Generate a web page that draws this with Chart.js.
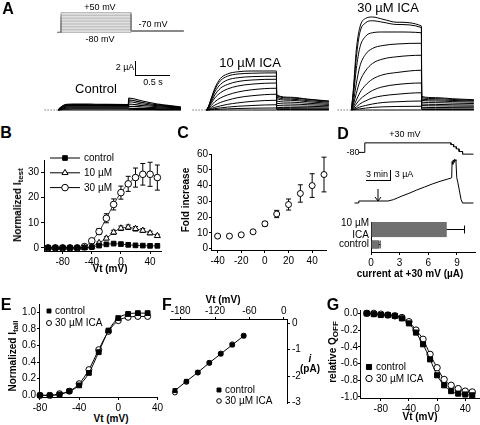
<!DOCTYPE html>
<html>
<head>
<meta charset="utf-8">
<script src="https://cdn.jsdelivr.net/npm/chart.js@4.4.1/dist/chart.umd.min.js"></script>
<style>
  body { margin:0; width:480px; height:425px; overflow:hidden; background:#fff; position:relative;
         font-family:"Liberation Sans", Arial, sans-serif; color:#000; }
  canvas { position:absolute; }
  .t { position:absolute; white-space:nowrap; line-height:1; transform:translate(-50%,-50%); font-size:10px; }
  .b { font-weight:bold; }
  .r { transform:translate(-50%,-50%) rotate(-90deg); }
  .L { font-weight:bold; font-size:16px; }
  .big { font-size:13px; }
  .sm { font-size:9px; }
  sub { font-size:0.8em; vertical-align:-0.3em; line-height:0; }
  .rule { position:absolute; background:#000; }
</style>
</head>
<body>
<script>
const FONT = '"Liberation Sans", Arial, sans-serif';
Chart.defaults.font.family = FONT;
Chart.defaults.font.size = 10;
Chart.defaults.color = '#000';
Chart.defaults.animation = false;
Chart.defaults.responsive = false;
Chart.defaults.plugins.legend.display = false;
Chart.defaults.plugins.tooltip.enabled = false;

/* ---------- Data ---------- */
// A: voltage protocol (mV) and current traces (uA), time in s
const protoV = [-80, -70, -60, -50, -40, -30, -20, -10, 0, 10, 20, 30, 40, 50];
const tStep = [0, 0.03, 0.07, 0.12, 0.2, 0.3, 0.45, 0.65, 1.0];
const tTail = [1.004, 1.2, 1.45, 1.75];

const ctrlStep = [
  [0, 0.3, 0.6, 0.75, 0.8, 0.8, 0.78, 0.75, 0.72],
  [0, 0.3, 0.55, 0.7, 0.72, 0.72, 0.7, 0.68, 0.66],
  [0, 0.25, 0.5, 0.6, 0.62, 0.62, 0.61, 0.6, 0.58],
  [0, 0.2, 0.4, 0.5, 0.52, 0.52, 0.5, 0.5, 0.5],
  [0, 0.15, 0.3, 0.38, 0.4, 0.4, 0.4, 0.4, 0.4],
  [0, 0.1, 0.2, 0.25, 0.28, 0.28, 0.28, 0.28, 0.28],
  [0, 0.05, 0.1, 0.12, 0.14, 0.14, 0.14, 0.14, 0.14],
  [0, 0, 0, 0, 0, 0, 0, 0, 0]
];
const ctrlTail = [
  [1.6, 1.2, 0.75, 0.4],
  [1.35, 1.0, 0.65, 0.35],
  [1.1, 0.8, 0.55, 0.3],
  [0.8, 0.6, 0.42, 0.25],
  [0.5, 0.4, 0.28, 0.18],
  [0.25, 0.2, 0.15, 0.1],
  [0.1, 0.08, 0.06, 0.05],
  [0, 0, 0, 0]
];
const ica10Step = [
  [0, 0.5, 1.6, 2.9, 4.2, 4.8, 5.1, 5.2, 5.2],
  [0, 0.45, 1.5, 2.7, 3.9, 4.5, 4.8, 4.9, 4.95],
  [0, 0.4, 1.3, 2.4, 3.4, 4.0, 4.3, 4.45, 4.5],
  [0, 0.35, 1.1, 2.0, 2.9, 3.4, 3.8, 4.0, 4.1],
  [0, 0.3, 0.9, 1.6, 2.3, 2.8, 3.2, 3.45, 3.6],
  [0, 0.2, 0.6, 1.1, 1.6, 2.0, 2.4, 2.7, 2.9],
  [0, 0.1, 0.35, 0.65, 1.0, 1.3, 1.65, 1.9, 2.1],
  [0, 0.05, 0.2, 0.35, 0.55, 0.75, 0.95, 1.15, 1.3],
  [0, 0.03, 0.1, 0.18, 0.28, 0.38, 0.5, 0.6, 0.7],
  [0, 0.01, 0.04, 0.07, 0.11, 0.15, 0.2, 0.24, 0.27],
  [0, 0, 0, 0, 0, 0, 0, 0, 0]
];
const ica10Tail = [
  [2.0, 1.7, 1.45, 1.2],
  [1.9, 1.6, 1.4, 1.15],
  [1.7, 1.45, 1.25, 1.05],
  [1.5, 1.3, 1.1, 0.9],
  [1.2, 1.05, 0.9, 0.75],
  [0.9, 0.8, 0.7, 0.6],
  [0.6, 0.55, 0.5, 0.42],
  [0.35, 0.32, 0.3, 0.26],
  [0.18, 0.17, 0.16, 0.14],
  [0.06, 0.06, 0.05, 0.05],
  [0, 0, 0, 0]
];
const ica30Step = [
  [0, 3, 8, 11, 12.2, 12.4, 12.1, 11.7, 11.2],
  [0, 2.6, 7, 10.3, 11.6, 11.9, 11.7, 11.4, 11.0],
  [0, 2, 5.5, 8.3, 9.8, 10.3, 10.4, 10.4, 10.3],
  [0, 1.2, 3.5, 5.8, 7.4, 8.2, 8.6, 8.8, 8.9],
  [0, 0.8, 2.2, 3.8, 5.2, 6.2, 6.8, 7.1, 7.3],
  [0, 0.5, 1.3, 2.3, 3.3, 4.1, 4.7, 5.0, 5.3],
  [0, 0.3, 0.8, 1.4, 2.0, 2.6, 3.1, 3.4, 3.6],
  [0, 0.2, 0.4, 0.8, 1.2, 1.6, 1.9, 2.1, 2.3],
  [0, 0.1, 0.2, 0.4, 0.6, 0.8, 1.0, 1.1, 1.2],
  [0, 0.05, 0.1, 0.15, 0.25, 0.35, 0.42, 0.47, 0.5],
  [0, 0, 0, 0, 0, 0, 0, 0, 0]
];
const ica30Tail = [
  [1.8, 1.65, 1.5, 1.37],
  [1.65, 1.52, 1.4, 1.28],
  [1.45, 1.36, 1.27, 1.2],
  [1.3, 1.2, 1.12, 1.05],
  [1.05, 0.98, 0.92, 0.86],
  [0.8, 0.75, 0.7, 0.66],
  [0.6, 0.56, 0.52, 0.5],
  [0.35, 0.33, 0.32, 0.3],
  [0.15, 0.15, 0.14, 0.13],
  [0.06, 0.06, 0.05, 0.05],
  [0, 0, 0, 0]
];

// B: normalized I_test vs Vt
const vtB = [-100, -90, -80, -70, -60, -50, -40, -30, -20, -10, 0, 10, 20, 30, 40, 50];
const bControl = [0, 0, 0, 0, 0, 0.1, 0.3, 0.9, 1.4, 1.7, 1.5, 1.2, 1.0, 0.9, 0.8, 0.8];
const b10 = [0, 0, 0, 0, 0, 0.05, 0.5, 2.0, 3.8, 6.2, 7.8, 8.2, 7.6, 6.9, 5.9, 4.8];
const b10Err = [0, 0, 0, 0, 0, 0, 0.3, 0.4, 0.6, 0.8, 0.9, 0.9, 0.9, 0.8, 0.7, 0.6];
const b30 = [0, 0, 0, 0, 0, 0.5, 2.8, 6.5, 11.8, 17.3, 22, 25.5, 28, 29.3, 29.3, 28];
const b30Err = [0, 0, 0, 0, 0, 0.3, 0.8, 1.2, 1.8, 2.2, 2.6, 3, 3.8, 4.3, 4.8, 5];

// C: fold increase
const vtC = [-40, -30, -20, -10, 0, 10, 20, 30, 40, 50];
const fold = [8, 8, 8.8, 10.7, 15.8, 22, 28, 35, 40, 47];
const foldErr = [0.8, 0.8, 0.9, 1, 1.5, 2.3, 3.5, 5.5, 7.5, 11];

// D: protocol, current time course, bars
const dProtoT = [0.55, 1.32, 1.32, 12.4, 12.4, 12.75, 12.75, 13.1, 13.1, 13.45, 13.45, 13.9, 13.9, 15.3];
const dProtoV = [-80, -80, 30, 30, 10, 10, -15, -15, -40, -40, -70, -70, -100, -100];
const dTime = [0, 0.5, 0.55, 2, 4.3, 5, 5.5, 6, 7, 8, 9, 10, 11, 12, 12.4, 12.5, 12.55, 12.65, 12.7, 12.8, 12.85, 12.95, 13.05, 13.15, 13.3, 13.5, 13.7, 13.9, 15.3];
const dCurr = [-0.6, -0.6, 0, 0, 0, 0.4, 0.9, 1.4, 2.3, 3.3, 4.2, 5.1, 5.9, 6.6, 6.85, 7.0, 11.8, 11.0, 12.3, 11.6, 12.5, 12.4, 12.0, 7.0, 5.5, 3.0, 0.5, -0.6, -0.6];
const barLabels = [['10 \u00b5M', 'ICA'], 'control'];
const barVals = [7.9, 0.8];
const barErr = [1.9, 0.15];

// E: normalized I_tail
const vtE = [-80, -70, -60, -50, -40, -30, -20, -10, 0, 10, 20, 30];
const eCtrl = [0, 0, 0.01, 0.05, 0.12, 0.27, 0.52, 0.78, 0.93, 0.98, 0.99, 0.99];
const eICA = [0, 0, 0.02, 0.05, 0.14, 0.31, 0.55, 0.77, 0.9, 0.94, 0.95, 0.95];

// F: single channel current
const vtF = [-190, -170, -150, -130, -110, -90, -70];
const fCtrl = [-2.55, -2.2, -1.86, -1.5, -1.16, -0.82, -0.48];
const fICA = [-2.62, -2.22, -1.87, -1.5, -1.15, -0.8, -0.47];

// G: relative Q_OFF
const vtG = [-100, -90, -80, -70, -60, -50, -40, -30, -20, -10, 0, 10, 20, 30, 40, 50];
const gCtrl = [0, -0.01, -0.02, -0.02, -0.03, -0.06, -0.12, -0.23, -0.37, -0.55, -0.74, -0.86, -0.93, -0.96, -0.97, -0.98];
const gICA = [0, 0, -0.01, -0.02, -0.03, -0.05, -0.1, -0.2, -0.31, -0.49, -0.65, -0.79, -0.86, -0.9, -0.93, -0.94];

/* ---------- helpers ---------- */
const xy = (xs, ys) => xs.map((x, i) => ({ x: x, y: ys[i] }));

function txt(html, x, y, cls, style) {
  const d = document.createElement('div');
  d.className = 't ' + (cls || '');
  d.innerHTML = html;
  d.style.left = x + 'px';
  d.style.top = y + 'px';
  if (style) d.style.cssText += style;
  document.body.appendChild(d);
}
function rule(x, y, w, h) {
  const d = document.createElement('div');
  d.className = 'rule';
  d.style.cssText = `left:${x}px;top:${y}px;width:${w}px;height:${h}px`;
  document.body.appendChild(d);
}

// plot area from a value->pixel mapping
function areaFrom(x0px, y0px, sx, sy, xmin, xmax, ymin, ymax) {
  return { x0: x0px + xmin * sx, x1: x0px + xmax * sx, y0: y0px - ymax * sy, y1: y0px - ymin * sy };
}

function makeChart(area, m, cfg) {
  const c = document.createElement('canvas');
  const left = Math.round(area.x0 - m.l), top = Math.round(area.y0 - m.t);
  c.width = Math.round(area.x1 - area.x0) + m.l + m.r;
  c.height = Math.round(area.y1 - area.y0) + m.t + m.b;
  c.style.left = left + 'px';
  c.style.top = top + 'px';
  document.body.appendChild(c);
  cfg.options = cfg.options || {};
  cfg.options.layout = { autoPadding: false, padding: m.pad || { left: 0, right: 0, top: 0, bottom: 0 } };
  return new Chart(c, cfg);
}

function axis(pos, min, max, major, size, fmt, extra) {
  return Object.assign({
    type: 'linear', position: pos, min: min, max: max,
    afterFit: s => { if (pos === 'left' || pos === 'right') s.width = size; else s.height = size; },
    afterBuildTicks: s => { s.ticks = major.map(v => ({ value: v })); },
    grid: { drawOnChartArea: false, drawTicks: true, tickLength: 3, color: '#000', lineWidth: 1 },
    border: { color: '#000', width: 1 },
    ticks: { color: '#000', font: { size: 10 }, padding: 2, maxRotation: 0, autoSkip: false,
             callback: v => fmt ? fmt(v) : String(v) }
  }, extra || {});
}
const hidden = (min, max) => ({ type: 'linear', display: false, min: min, max: max });
const shortTicks = { grid: { drawOnChartArea: false, drawTicks: true, tickLength: 2, color: '#000', lineWidth: 1 } };

// error bars drawn under the markers
const errorBars = {
  id: 'errorBars',
  beforeDatasetsDraw(chart) {
    const ctx = chart.ctx;
    const horiz = chart.options.indexAxis === 'y';
    chart.data.datasets.forEach((ds, i) => {
      if (!ds.err) return;
      const meta = chart.getDatasetMeta(i);
      const xs = chart.scales[meta.xAxisID], ys = chart.scales[meta.yAxisID];
      ctx.save();
      ctx.strokeStyle = '#000';
      ctx.lineWidth = 1;
      ctx.beginPath();
      ds.data.forEach((p, j) => {
        const e = ds.err[j];
        if (!e || p === null) return;
        if (horiz) {
          const el = meta.data[j];
          const xe = xs.getPixelForValue(p + e);
          ctx.moveTo(el.x, el.y); ctx.lineTo(xe, el.y);
          ctx.moveTo(xe, el.y - 4); ctx.lineTo(xe, el.y + 4);
        } else {
          const px = xs.getPixelForValue(p.x);
          const y1 = ys.getPixelForValue(p.y - e), y2 = ys.getPixelForValue(p.y + e);
          ctx.moveTo(px, y1); ctx.lineTo(px, y2);
          ctx.moveTo(px - 2.5, y1); ctx.lineTo(px + 2.5, y1);
          ctx.moveTo(px - 2.5, y2); ctx.lineTo(px + 2.5, y2);
        }
      });
      ctx.stroke();
      ctx.restore();
    });
  }
};
Chart.register(errorBars);

// small in-plot legend, positions in page pixels
function miniLegend(items, x, y0, dy, opts) {
  opts = opts || {};
  return {
    id: 'miniLegend',
    afterDraw(chart) {
      const ctx = chart.ctx;
      const ox = parseFloat(chart.canvas.style.left), oy = parseFloat(chart.canvas.style.top);
      ctx.save();
      ctx.font = (opts.size || 10) + 'px ' + FONT;
      ctx.textBaseline = 'middle';
      items.forEach((it, k) => {
        const px = x - ox, py = y0 + k * dy - oy;
        ctx.strokeStyle = '#000';
        ctx.lineWidth = 1;
        if (opts.line) {
          ctx.beginPath(); ctx.moveTo(px - opts.line, py); ctx.lineTo(px + opts.line, py); ctx.stroke();
        }
        ctx.fillStyle = it.fill;
        Chart.helpers.drawPoint(ctx, { pointStyle: it.style, radius: it.r, rotation: 0, borderWidth: 1 }, px, py);
        ctx.fillStyle = '#000';
        ctx.fillText(it.label, px + (opts.gap || 6), py + 0.5);
      });
      ctx.restore();
    }
  };
}

function pts(data, style, r, fill, line) {
  return {
    data: data, pointStyle: style, pointRadius: r, pointBackgroundColor: fill,
    pointBorderColor: '#000', pointBorderWidth: 1,
    showLine: !!line, borderColor: '#000', borderWidth: line || 0,
    cubicInterpolationMode: 'monotone', clip: false
  };
}

/* ---------- A ---------- */
// voltage protocol
{
  const area = areaFrom(60.5, 20.7, 70, 20 / 130, -0.1, 1.8, -90, 60);
  const ds = protoV.map(v => ({
    data: [{ x: -0.05, y: -80 }, { x: 0, y: -80 }, { x: 0, y: v }, { x: 1, y: v }, { x: 1, y: -70 }, { x: 1.75, y: -70 }],
    borderColor: '#8a8a8a', borderWidth: 0.6, pointRadius: 0, tension: 0, clip: false
  }));
  makeChart(area, { l: 0, r: 0, t: 0, b: 0 }, {
    type: 'line', data: { datasets: ds },
    options: { scales: { x: hidden(-0.1, 1.8), y: hidden(-90, 60) } }
  });
}
function traceChart(t0px, steps, tails, width) {
  const area = areaFrom(t0px, 109.5, 70, 7.5, -0.22, 1.78, -0.4, 14.4);
  const ds = steps.map((s, i) => ({
    data: xy(tStep, s).concat(xy(tTail, tails[i])),
    borderColor: '#000', borderWidth: width, pointRadius: 0,
    cubicInterpolationMode: 'monotone', clip: false
  }));
  ds.push({ data: [{ x: -0.2, y: 0 }, { x: 0, y: 0 }], borderColor: '#777', borderWidth: 1,
            borderDash: [1.5, 1.5], pointRadius: 0, clip: false });
  makeChart(area, { l: 0, r: 0, t: 0, b: 0 }, {
    type: 'line', data: { datasets: ds },
    options: { scales: { x: hidden(-0.22, 1.78), y: hidden(-0.4, 14.4) } }
  });
}
traceChart(58.3, ctrlStep, ctrlTail, 1.2);
traceChart(206.7, ica10Step, ica10Tail, 1);
traceChart(351.7, ica30Step, ica30Tail, 1);

txt('A', 8, 9, 'L');
txt('+50 mV', 100, 7, 'sm');
txt('-80 mV', 100, 39, 'sm');
txt('-70 mV', 153, 24, 'sm');
txt('2 \u00b5A', 125, 67, 'sm');
txt('0.5 s', 153, 82, 'sm');
rule(135, 61, 1, 15);
rule(135, 75, 35, 1);
txt('Control', 96, 88, 'big');
txt('10 \u00b5M ICA', 250, 62, 'big');
txt('30 \u00b5M ICA', 388, 7, 'big');

/* ---------- B ---------- */
{
  const area = { x0: 44.3, x1: 161.7, y0: 155.7, y1: 251 };
  makeChart(area, { l: 40, r: 4, t: 4, b: 15, pad: { left: 0, right: 4, top: 4, bottom: 0 } }, {
    type: 'line',
    data: { datasets: [
      pts(xy(vtB, bControl), 'rect', 3.3, '#000', 0.8),
      Object.assign(pts(xy(vtB, b10), 'triangle', 3.5, '#fff', 0.8), { err: b10Err }),
      Object.assign(pts(xy(vtB, b30), 'circle', 3.3, '#fff', 0.8), { err: b30Err })
    ] },
    options: { scales: {
      x: axis('bottom', -105.6, 55, [-80, -40, 0, 40], 15),
      y: axis('left', -1.25, 35, [0, 10, 20, 30], 40)
    } },
    plugins: [miniLegend([
      { label: 'control', style: 'rect', r: 3.3, fill: '#000' },
      { label: '10 \u00b5M', style: 'triangle', r: 3.5, fill: '#fff' },
      { label: '30 \u00b5M', style: 'circle', r: 3.3, fill: '#fff' }
    ], 65, 158, 14.8, { line: 15, gap: 19 })]
  });
}
txt('B', 6, 133, 'L');
txt('Normalized I<sub>test</sub>', 18, 205, 'b r');
txt('Vt (mV)', 110, 269, 'b');

/* ---------- C ---------- */
{
  const area = { x0: 210.7, x1: 325.5, y0: 153.3, y1: 250 };
  makeChart(area, { l: 20, r: 4, t: 6, b: 15, pad: { left: 0, right: 4, top: 6, bottom: 0 } }, {
    type: 'line',
    data: { datasets: [
      Object.assign(pts(xy(vtC, fold), 'circle', 3, '#fff', 0), { err: foldErr })
    ] },
    options: { scales: {
      x: axis('bottom', -45.6, 51.7, [-40, -20, 0, 20, 40], 15),
      y: axis('left', -0.8, 60, [0, 10, 20, 30, 40, 50, 60], 20, null,
              { grid: shortTicks.grid, ticks: { color: '#000', font: { size: 10 }, padding: 1, autoSkip: false } })
    } }
  });
}
txt('C', 183, 133, 'L');
txt('Fold increase', 186, 200, 'b r');

/* ---------- D ---------- */
txt('D', 343, 134, 'L');
{
  const sx = 7.78;
  const areaV = areaFrom(355, 145.3, sx, 0.0873, -0.2, 15.5, -110, 40);
  makeChart(areaV, { l: 0, r: 0, t: 0, b: 0 }, {
    type: 'line',
    data: { datasets: [{ data: xy(dProtoT, dProtoV), borderColor: '#000', borderWidth: 1,
                         pointRadius: 0, tension: 0, clip: false }] },
    options: { scales: { x: hidden(-0.2, 15.5), y: hidden(-110, 40) } }
  });
  const areaI = areaFrom(355, 201, sx, 3.33, -0.2, 15.5, -1.5, 13.5);
  makeChart(areaI, { l: 0, r: 0, t: 0, b: 0 }, {
    type: 'line',
    data: { datasets: [{ data: xy(dTime, dCurr), borderColor: '#000', borderWidth: 1,
                         pointRadius: 0, tension: 0, clip: false }] },
    options: { scales: { x: hidden(-0.2, 15.5), y: hidden(-1.5, 13.5) } }
  });
}
txt('+30 mV', 405, 134, 'sm');
txt('-80', 353, 152, 'sm');
txt('3 min', 377, 174, 'sm');
txt('3 \u00b5A', 404, 174, 'sm');
rule(366, 180, 25, 1);
rule(390, 170, 1, 11);
{
  const a = document.createElement('div');
  a.style.cssText = 'position:absolute;left:374px;top:188px;';
  a.innerHTML = '<svg width="8" height="13"><path d="M4 0 V12 M1 8 L4 12 L7 8" stroke="#000" stroke-width="1" fill="none"/></svg>';
  document.body.appendChild(a);
}
{
  const area = { x0: 370.5, x1: 475.7, y0: 216, y1: 251.7 };
  makeChart(area, { l: 34, r: 0, t: 2, b: 15, pad: { left: 0, right: 0, top: 2, bottom: 0 } }, {
    type: 'bar',
    data: { labels: barLabels, datasets: [
      { data: [barVals[0], null], err: [barErr[0], null], backgroundColor: '#707070',
        borderColor: '#444', borderWidth: 0.5, barThickness: 15, grouped: false },
      { data: [null, barVals[1]], err: [null, barErr[1]], backgroundColor: '#707070',
        borderColor: '#444', borderWidth: 0.5, barThickness: 8, grouped: false }
    ] },
    options: {
      indexAxis: 'y',
      scales: {
        x: axis('bottom', 0, 11, [0, 3, 6, 9], 15),
        y: { type: 'category', position: 'left', afterFit: s => { s.width = 34; },
             grid: { drawOnChartArea: false, drawTicks: false }, border: { color: '#000' },
             ticks: { padding: 2, font: { size: 10 }, color: '#000', autoSkip: false } }
      }
    }
  });
}
txt('current at +30 mV (\u00b5A)', 410, 274, 'b');

/* ---------- E ---------- */
{
  const area = { x0: 39.3, x1: 159.5, y0: 302.6, y1: 397 };
  makeChart(area, { l: 32, r: 6, t: 6, b: 15, pad: { left: 0, right: 6, top: 6, bottom: 0 } }, {
    type: 'line',
    data: { datasets: [
      pts(xy(vtE, eCtrl), 'rect', 3.4, '#000', 1),
      pts(xy(vtE, eICA), 'circle', 3, '#fff', 1)
    ] },
    options: { scales: {
      x: axis('bottom', -81, 40, [-80, -40, 0, 40], 15),
      y: axis('left', -0.02, 1.1, [0, 0.2, 0.4, 0.6, 0.8, 1.0], 32, v => v.toFixed(1),
              { grid: shortTicks.grid, ticks: { color: '#000', font: { size: 10 }, padding: 1, autoSkip: false,
                                                callback: v => v.toFixed(1) } })
    } },
    plugins: [miniLegend([
      { label: 'control', style: 'rect', r: 2.8, fill: '#000' },
      { label: '30 \u00b5M ICA', style: 'circle', r: 2.5, fill: '#fff' }
    ], 49, 311, 12)]
  });
}
txt('E', 6, 305, 'L');
txt('Normalized I<sub>tail</sub>', 13, 356, 'b r');
txt('Vt (mV)', 111, 419, 'b');

/* ---------- F ---------- */
{
  const area = { x0: 170.3, x1: 287.7, y0: 318.5, y1: 406.7 };
  makeChart(area, { l: 12, r: 16, t: 13, b: 4, pad: { left: 12, right: 0, top: 0, bottom: 4 } }, {
    type: 'line',
    data: { datasets: [
      pts(xy(vtF, fCtrl), 'rect', 2.8, '#000', 1),
      pts(xy(vtF, fICA), 'circle', 2.5, '#fff', 0)
    ] },
    options: { scales: {
      x: axis('top', -198.6, 5.6, [-180, -120, -60, 0], 13, null,
              { grid: shortTicks.grid, ticks: { color: '#000', font: { size: 10 }, padding: 0, maxRotation: 0, autoSkip: false } }),
      y: axis('right', -3.02, 0.16, [0, -1, -2, -3], 16)
    } },
    plugins: [miniLegend([
      { label: 'control', style: 'rect', r: 2.8, fill: '#000' },
      { label: '30 \u00b5M ICA', style: 'circle', r: 2.3, fill: '#fff' }
    ], 219, 390, 11)]
  });
}
txt('F', 167, 305, 'L');
txt('Vt (mV)', 223, 300, 'b');
txt('<i>i</i>', 310, 359, 'b');
txt('(pA)', 310, 369, 'b');

/* ---------- G ---------- */
{
  const area = { x0: 360, x1: 479.5, y0: 310, y1: 398.3 };
  makeChart(area, { l: 26, r: 2, t: 6, b: 15, pad: { left: 0, right: 2, top: 6, bottom: 0 } }, {
    type: 'line',
    data: { datasets: [
      pts(xy(vtG, gCtrl), 'rect', 3.6, '#000', 1),
      pts(xy(vtG, gICA), 'circle', 3.2, '#fff', 1)
    ] },
    options: { scales: {
      x: axis('bottom', -109.6, 61, [-80, -40, 0, 40], 15),
      y: axis('left', -1.012, 0.04, [0, -0.2, -0.4, -0.6, -0.8, -1.0], 26, null,
              { grid: shortTicks.grid, ticks: { color: '#000', font: { size: 10 }, padding: 0, autoSkip: false,
                                                callback: v => v.toFixed(1) } })
    } },
    plugins: [miniLegend([
      { label: 'control', style: 'rect', r: 3.6, fill: '#000' },
      { label: '30 \u00b5M ICA', style: 'circle', r: 3.2, fill: '#fff' }
    ], 369, 367, 11.5, { gap: 7 })]
  });
}
txt('G', 333, 305, 'L');
txt('relative Q<sub>OFF</sub>', 333, 352, 'b r');
txt('Vt (mV)', 420, 417, 'b');
</script>
</body>
</html>
